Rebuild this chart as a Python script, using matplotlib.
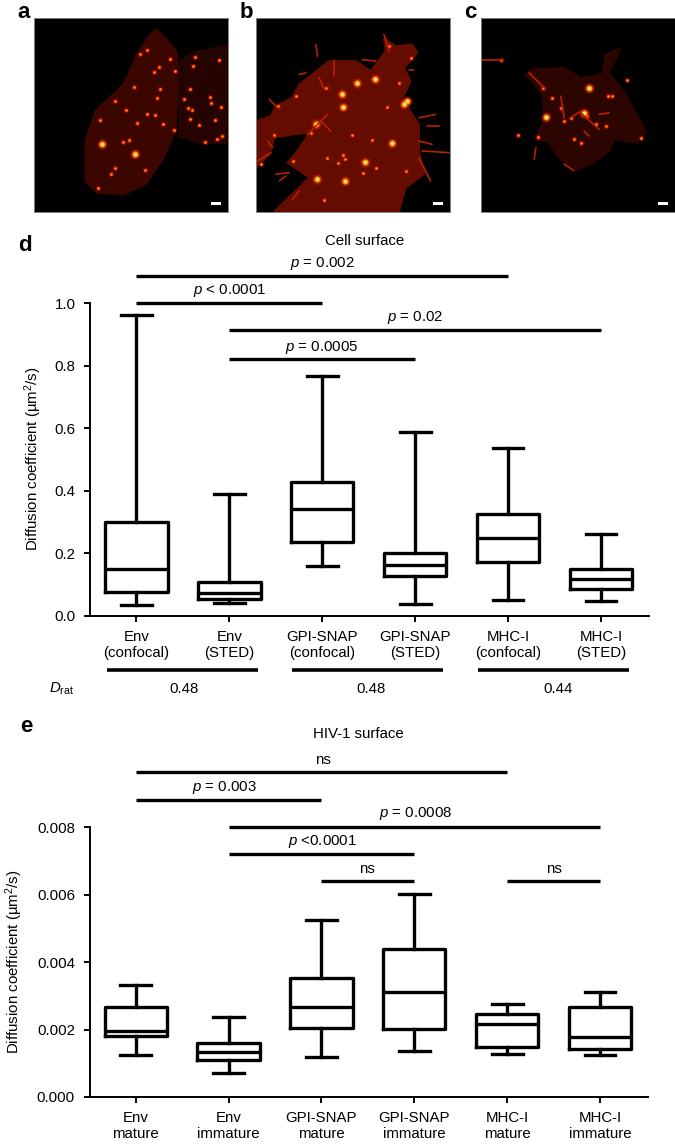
import matplotlib
matplotlib.use('Agg')
import matplotlib.pyplot as plt
from matplotlib.lines import Line2D
from matplotlib.patches import Rectangle

plt.rcParams['font.family'] = ['Liberation Sans', 'DejaVu Sans']
plt.rcParams['mathtext.fontset'] = 'custom'
plt.rcParams['mathtext.rm'] = 'Liberation Sans'
plt.rcParams['mathtext.it'] = 'Liberation Sans:italic'
plt.rcParams['mathtext.bf'] = 'Liberation Sans:bold'

W, H = 675, 1146
FS = 10.8

# panel d: whisker low, q1, median, q3, whisker high
labels_d = ['Env\n(confocal)', 'Env\n(STED)', 'GPI-SNAP\n(confocal)', 'GPI-SNAP\n(STED)', 'MHC-I\n(confocal)', 'MHC-I\n(STED)']
lo_d = [0.033, 0.040, 0.160, 0.036, 0.050, 0.047]
q1_d = [0.076, 0.052, 0.237, 0.128, 0.172, 0.085]
med_d = [0.150, 0.072, 0.342, 0.163, 0.250, 0.117]
q3_d = [0.300, 0.108, 0.428, 0.200, 0.326, 0.150]
hi_d = [0.963, 0.388, 0.767, 0.587, 0.536, 0.262]
ticks_d = [0.0, 0.2, 0.4, 0.6, 0.8, 1.0]
sig_d = [(1, 5, 1.088), (1, 3, 1.0), (2, 6, 0.913), (2, 4, 0.822)]
drat_values = ['0.48', '0.48', '0.44']

# panel e
labels_e = ['Env\nmature', 'Env\nimmature', 'GPI-SNAP\nmature', 'GPI-SNAP\nimmature', 'MHC-I\nmature', 'MHC-I\nimmature']
lo_e = [0.00124, 0.00070, 0.00119, 0.00136, 0.00128, 0.00124]
q1_e = [0.00181, 0.00110, 0.00205, 0.00202, 0.00149, 0.00143]
med_e = [0.00196, 0.00133, 0.00267, 0.00312, 0.00216, 0.00179]
q3_e = [0.00266, 0.00159, 0.00353, 0.00438, 0.00245, 0.00266]
hi_e = [0.00333, 0.00238, 0.00524, 0.00601, 0.00276, 0.00311]
ticks_e = [0.000, 0.002, 0.004, 0.006, 0.008]
sig_e = [(1, 5, 0.00964), (1, 3, 0.00882), (2, 6, 0.00801), (2, 4, 0.00722), (3, 4, 0.00640), (5, 6, 0.00640)]

# microscopy panels, traced by eye on a 582x582 grid per panel
cell_a = [[(368, 35), (395, 60), (430, 105), (432, 200), (425, 340), (390, 420), (335, 500), (270, 530), (190, 525),
           (155, 490), (155, 370), (185, 280), (270, 200), (310, 110), (345, 55)]]
dim_a = [[(432, 130), (480, 100), (582, 80), (582, 380), (500, 380), (435, 360)]]
big_a = [(305, 408), (205, 378)]
mid_a = [(375, 147), (360, 162), (320, 108), (380, 213), (300, 207), (245, 250), (277, 278), (200, 307), (310, 316),
         (420, 338), (245, 452), (232, 470), (410, 123), (340, 96), (470, 215), (423, 160), (556, 127), (483, 117),
         (370, 240), (285, 367), (335, 458), (475, 278), (495, 322), (565, 355), (550, 365), (515, 373), (463, 272),
         (530, 238), (478, 145), (192, 512), (340, 290), (388, 320), (365, 293), (268, 372), (450, 243), (532, 256),
         (563, 268), (543, 308), (468, 305)]

cell_b = [[(0, 310), (45, 295), (60, 265), (110, 240), (130, 200), (220, 130), (300, 130), (345, 160), (390, 100),
           (385, 60), (420, 85), (470, 80), (485, 105), (445, 150), (465, 190), (440, 240), (470, 290), (490, 320),
           (490, 400), (505, 470), (450, 510), (430, 582), (55, 582), (130, 510), (160, 480), (95, 435), (125, 400),
           (160, 345), (110, 350), (55, 360), (40, 410), (0, 450)]]
fil_b = [[(235, 125), (235, 175)], [(180, 80), (185, 115)], [(150, 165), (130, 170)], [(40, 245), (65, 270)],
         [(190, 180), (205, 215)], [(320, 125), (360, 130)], [(385, 50), (400, 100)], [(460, 155), (475, 155)],
         [(490, 370), (530, 380)], [(500, 400), (582, 405)], [(490, 420), (525, 490)], [(490, 300), (540, 290)],
         [(515, 325), (550, 325)], [(60, 470), (100, 465)], [(70, 490), (90, 475)], [(35, 370), (50, 390)],
         [(5, 430), (45, 405)], [(195, 310), (225, 340)], [(130, 520), (110, 545)], [(155, 350), (215, 290)]]
big_b = [(268, 490), (182, 483), (327, 432), (445, 258), (180, 320), (410, 376), (305, 195), (358, 182), (262, 268),
         (258, 228), (455, 250)]
mid_b = [(323, 467), (360, 450), (350, 368), (290, 353), (262, 412), (268, 425), (165, 345), (110, 430), (120, 235),
         (65, 265), (210, 210), (395, 268), (430, 195), (465, 120), (400, 85), (248, 435), (450, 460), (205, 548),
         (15, 440), (55, 352), (215, 422)]

cell_c = [[(135, 170), (150, 155), (250, 150), (300, 180), (365, 170), (375, 110), (420, 92), (385, 165), (420, 210),
           (440, 240), (470, 295), (495, 340), (470, 375), (400, 365), (385, 400), (340, 435), (280, 460), (235, 420),
           (200, 370), (165, 365), (190, 300), (185, 230)]]
fil_c = [[(240, 235), (250, 300)], [(300, 285), (355, 335)], [(145, 165), (190, 210)], [(355, 290), (385, 285)],
         [(270, 300), (300, 280)], [(310, 340), (325, 355)], [(165, 390), (160, 425)], [(250, 440), (278, 458)],
         [(0, 125), (65, 125)]]
big_c = [(325, 210), (310, 285), (195, 297)]
mid_c = [(383, 235), (395, 235), (240, 270), (320, 295), (280, 365), (300, 375), (375, 325), (250, 310), (170, 358),
         (185, 210), (110, 353), (60, 125), (480, 360), (440, 185), (215, 240), (345, 320), (270, 300)]

fig = plt.figure(figsize=(W / 100, H / 100), dpi=100)


def px_axes(left, top, right, bottom):
    return fig.add_axes([left / W, 1 - bottom / H, (right - left) / W, (bottom - top) / H])


def txt(x, y, s, **kw):
    kw.setdefault('ha', 'center')
    kw.setdefault('va', 'center')
    kw.setdefault('fontsize', FS)
    fig.text(x / W, 1 - y / H, s, **kw)


def micro(left, cells, big, mid, body, dim=None, fil=None):
    ax = px_axes(left, 18, left + 193.5, 211.5)
    ax.set_facecolor('black')
    ax.set_xlim(0, 582)
    ax.set_ylim(582, 0)
    ax.set_xticks([])
    ax.set_yticks([])
    for s in ax.spines.values():
        s.set_color('#808080')
        s.set_linewidth(0.7)
    for poly in cells:
        ax.fill(*zip(*poly), facecolor=body, edgecolor=body, lw=1.5)
    for poly in dim or []:
        ax.fill(*zip(*poly), color='#240300', lw=0)
    for seg in fil or []:
        ax.plot(*zip(*seg), color='#b82000', lw=1.2, solid_capstyle='round')
    xs, ys = zip(*mid)
    ax.scatter(xs, ys, s=16, color='#a81200', alpha=0.6, lw=0)
    ax.scatter(xs, ys, s=5, color='#ff4a00', lw=0)
    ax.scatter(xs, ys, s=1.2, color='#ffa030', lw=0)
    xs, ys = zip(*big)
    ax.scatter(xs, ys, s=50, color='#d82000', alpha=0.6, lw=0)
    ax.scatter(xs, ys, s=20, color='#ff8000', lw=0)
    ax.scatter(xs, ys, s=7, color='#ffec70', lw=0)
    ax.add_patch(Rectangle((532, 552), 30, 9, color='white', lw=0))


micro(34, cell_a, big_a, mid_a, '#3c0600', dim_a)
micro(256, cell_b, big_b, mid_b, '#640c00', None, fil_b)
micro(481, cell_c, big_c, mid_c, '#2c0400', None, fil_c)

for x, y, letter in [(24, 13, 'a'), (246, 13, 'b'), (470.5, 13, 'c'), (24.5, 245, 'd'), (26, 727, 'e')]:
    txt(x, y, letter, fontsize=16, fontweight='bold')


def box_panel(ax, lo, q1, med, q3, hi, labels, ticks, sig, fmt):
    stats = [{'whislo': a, 'q1': b, 'med': c, 'q3': d, 'whishi': e} for a, b, c, d, e in zip(lo, q1, med, q3, hi)]
    line = dict(color='black', linewidth=2.4)
    ax.bxp(stats, positions=range(1, 7), widths=0.67, capwidths=0.33, showfliers=False,
           boxprops=line, medianprops=line, whiskerprops=line, capprops=line)
    for a, b, level in sig:
        ax.plot([a, b], [level, level], color='black', lw=2.4, clip_on=False, solid_capstyle='butt')
    ax.set_yticks(ticks)
    ax.set_yticklabels([fmt % t for t in ticks], fontsize=FS)
    ax.set_ylim(ticks[0], ticks[-1])
    ax.set_xticks(range(1, 7))
    ax.set_xticklabels(labels, fontsize=FS, linespacing=1.2)
    ax.tick_params(axis='y', length=4.5, width=1.4, pad=6)
    ax.tick_params(axis='x', length=4, width=1.4, pad=6)
    ax.spines['top'].set_visible(False)
    ax.spines['right'].set_visible(False)
    ax.spines['left'].set_linewidth(1.4)
    ax.spines['bottom'].set_linewidth(1.4)


ax_d = px_axes(90, 303.3, 649, 615.7)
box_panel(ax_d, lo_d, q1_d, med_d, q3_d, hi_d, labels_d, ticks_d, sig_d, '%.1f')
ax_d.set_xlim(0.4995, 6.517)

ax_e = px_axes(89.5, 827.3, 648, 1097)
box_panel(ax_e, lo_e, q1_e, med_e, q3_e, hi_e, labels_e, ticks_e, sig_e, '%.3f')
ax_e.set_xlim(0.503, 6.516)

P = r'$\mathit{p}$'
txt(364.6, 241, 'Cell surface')
txt(322, 263, P + ' = 0.002')
txt(229, 290.7, P + ' < 0.0001')
txt(415, 318, P + ' = 0.02')
txt(322, 347, P + ' = 0.0005')
txt(32.7, 459, r'Diffusion coefficient (µm$^{2}$/s)', rotation=90)

# Drat row under panel d
for (x0, x1), xc, val in zip([(106.8, 258.3), (292, 443.4), (477.8, 629.3)], [184, 371, 558], drat_values):
    fig.add_artist(Line2D([x0 / W, x1 / W], [1 - 670.3 / H] * 2, color='black', lw=2.6, solid_capstyle='butt'))
    txt(xc, 688.7, val)
txt(61.5, 689, r'$\mathit{D}_{\mathrm{rat}}$')

txt(358.6, 734, 'HIV-1 surface')
txt(323, 760, 'ns')
txt(224, 787, P + ' = 0.003')
txt(415, 814, P + ' = 0.0008')
txt(322, 841, P + ' <0.0001')
txt(367, 869, 'ns')
txt(554, 869, 'ns')
txt(14.5, 962, r'Diffusion coefficient (µm$^{2}$/s)', rotation=90)

fig.savefig('out.png', dpi=100)
